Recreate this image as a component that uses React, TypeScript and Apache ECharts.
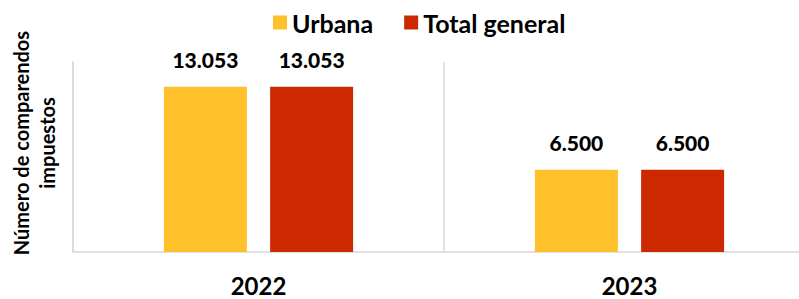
import React, { useEffect, useRef } from "react";
import * as echarts from "echarts";

const categories = ["2022", "2023"];
const urbana = [13053, 6500];
const totalGeneral = [13053, 6500];
const seriesNames = ["Urbana", "Total general"];
const yTitle = "Número de comparendos\nimpuestos";

const fmt = (v: number) => v.toString().replace(/\B(?=(\d{3})+(?!\d))/g, ".");

export default function App() {
  const ref = useRef<HTMLDivElement>(null);
  useEffect(() => {
    const chart = echarts.init(ref.current!, null, { renderer: "svg" });
    const font = "Lato";
    const labelCfg = {
      show: true,
      position: "top",
      distance: 17,
      formatter: (p: any) => fmt(p.value),
      fontFamily: font,
      fontWeight: 900,
      fontSize: 21,
      color: "#000",
    };
    chart.setOption({
      animation: false,
      textStyle: { fontFamily: font },
      legend: {
        top: 10,
        left: 273,
        padding: 0,
        itemWidth: 14,
        itemHeight: 14,
        itemGap: 31,
        icon: "rect",
        textStyle: { fontFamily: font, fontWeight: "bold", fontSize: 25, color: "#000" },
        data: seriesNames,
      },
      grid: { left: 73, top: 62, width: 742, height: 190, containLabel: false, outerBoundsMode: "none" },
      xAxis: {
        type: "category",
        data: categories,
        axisLine: { show: true, lineStyle: { color: "#d9d9d9", width: 1.5 } },
        axisTick: { show: false },
        splitLine: { show: true, lineStyle: { color: "#d9d9d9", width: 1.5 } },
        axisLabel: { fontFamily: font, fontWeight: "bold", fontSize: 24, color: "#000", margin: 21 },
      },
      yAxis: {
        type: "value",
        min: 0,
        max: 15000,
        axisLine: { show: true, lineStyle: { color: "#d9d9d9", width: 1.5 } },
        axisTick: { show: false },
        axisLabel: { show: false },
        splitLine: { show: false },
      },
      graphic: [
        {
          type: "text",
          x: 34,
          y: 143,
          rotation: Math.PI / 2,
          style: {
            text: yTitle,
            fontFamily: font,
            fontWeight: "bold",
            fontSize: 20,
            lineHeight: 26,
            fill: "#000",
            align: "center",
            verticalAlign: "middle",
          },
        },
      ],
      series: [
        {
          name: seriesNames[0],
          type: "bar",
          data: urbana,
          barWidth: 83,
          barGap: "28%",
          itemStyle: { color: "#FFC12B" },
          label: labelCfg,
        },
        {
          name: seriesNames[1],
          type: "bar",
          data: totalGeneral,
          barWidth: 83,
          barGap: "28%",
          itemStyle: { color: "#CC2900" },
          label: labelCfg,
        },
      ],
    });
    return () => chart.dispose();
  }, []);
  return <div ref={ref} style={{ width: 799, height: 299, position: "absolute", left: 0, top: 0 }} />;
}
